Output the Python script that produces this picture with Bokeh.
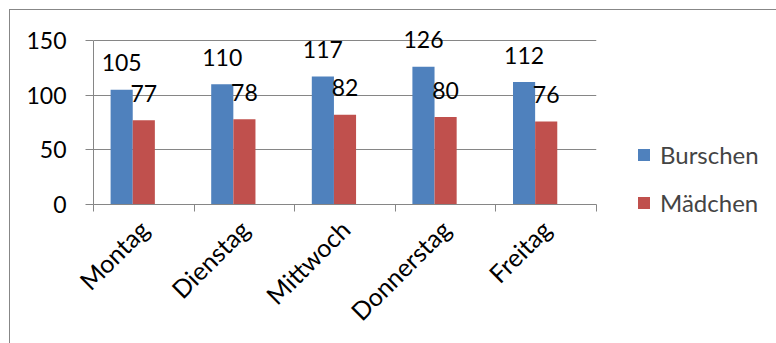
import math
import numpy as np
from bokeh.plotting import figure
from bokeh.models import (ColumnDataSource, Range1d, FixedTicker, LinearAxis, Grid,
                          Legend, LegendItem, CustomJSTickFormatter)
from bokeh.core.properties import value
from bokeh.embed import file_html
from bokeh.resources import INLINE

days = ["Montag", "Dienstag", "Mittwoch", "Donnerstag", "Freitag"]
burschen = [105, 110, 117, 126, 112]
maedchen = [77, 78, 82, 80, 76]
y_ticks = [0, 50, 100, 150]
series_names = ["Burschen", "Mädchen"]

BLUE = "#4F81BD"
RED = "#C0504D"
GRAY = "#868686"
FONT = "Lato"

idx = np.arange(len(days))
centers = idx + 0.5
src = ColumnDataSource(dict(
    xb=centers - 0.22, xm=centers,
    b=burschen, m=maedchen,
    bl=[str(v) for v in burschen], ml=[str(v) for v in maedchen],
))

p = figure(x_range=Range1d(0, len(days)), y_range=Range1d(0, 164.6),
           frame_width=503, frame_height=180,
           min_border_left=83, min_border_top=14, min_border_bottom=139, min_border_right=180,
           output_backend="svg", toolbar_location=None,
           x_axis_type=None, y_axis_type=None)
p.outline_line_color = None
p.margin = (9, 0, 0, 9)
p.styles = {"border-top": "1px solid #878787", "border-left": "1px solid #878787"}

# y axis + grid
yax = LinearAxis(ticker=FixedTicker(ticks=y_ticks, minor_ticks=[]), bounds=(0, 150))
yax.axis_line_color = GRAY
yax.major_tick_line_color = GRAY
yax.major_tick_out = 8
yax.major_tick_in = 0
yax.minor_tick_line_color = None
yax.major_label_standoff = 19
yax.major_label_text_font = FONT
yax.major_label_text_font_size = "23px"
yax.major_label_text_color = "black"
p.add_layout(yax, "left")
p.add_layout(Grid(dimension=1, ticker=yax.ticker, grid_line_color=GRAY, grid_line_width=1))

# x axis: labels at category centres, tick marks at boundaries
xax = LinearAxis(ticker=FixedTicker(ticks=list(centers), minor_ticks=list(range(len(days) + 1))))
xax.formatter = CustomJSTickFormatter(args=dict(labels=days),
                                      code="return labels[Math.floor(tick)];")
xax.axis_line_color = GRAY
xax.major_tick_line_color = None
xax.major_tick_out = 0
xax.major_tick_in = 0
xax.minor_tick_line_color = GRAY
xax.minor_tick_out = 7
xax.minor_tick_in = 0
xax.major_label_orientation = math.pi / 4
xax.major_label_standoff = 13
xax.major_label_text_font = FONT
xax.major_label_text_font_size = "25px"
xax.major_label_text_color = "black"
p.add_layout(xax, "below")

rb = p.vbar(x="xb", top="b", width=0.22, source=src, fill_color=BLUE, line_color=None)
rm = p.vbar(x="xm", top="m", width=0.22, source=src, fill_color=RED, line_color=None)

p.text(x="xb", y="b", text="bl", source=src, text_align="center", text_baseline="alphabetic",
       y_offset=-27, text_font=value(FONT), text_font_size="23px", text_color="black")
p.text(x="xm", y="m", text="ml", source=src, text_align="center", text_baseline="alphabetic",
       y_offset=-27, text_font=value(FONT), text_font_size="23px", text_color="black")

legend = Legend(items=[LegendItem(label=series_names[0], renderers=[rb]),
                       LegendItem(label=series_names[1], renderers=[rm])],
                location=(40, -13))
legend.border_line_color = None
legend.background_fill_alpha = 0
legend.glyph_width = 15
legend.glyph_height = 15
legend.label_height = 30
legend.label_standoff = 9
legend.spacing = 18
legend.padding = 0
legend.margin = 0
legend.label_text_font = FONT
legend.label_text_font_size = "24px"
legend.label_text_baseline = "middle"
p.add_layout(legend, "right")

open("out.html", "w").write(file_html(p, INLINE))
